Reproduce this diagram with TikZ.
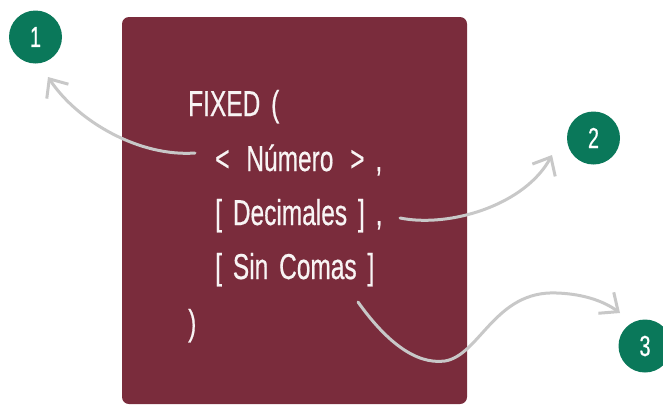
\documentclass[tikz,border=0pt]{standalone}
\usepackage{fontspec}
\setmainfont{Liberation Sans}[FakeStretch=0.68,WordSpace=1.6,FakeBold=0.5]
\usetikzlibrary{arrows.meta}
\definecolor{boxred}{RGB}{122,44,60}
\definecolor{numgreen}{RGB}{10,120,90}
\definecolor{arrowgray}{RGB}{200,200,200}
\definecolor{txtwhite}{RGB}{248,244,244}
\tikzset{
  codeline/.style={anchor=base west, inner sep=0pt, text=txtwhite, font=\fontsize{36}{36}\selectfont},
  numcircle/.style={circle, fill=numgreen, minimum size=53pt, inner sep=0pt, text=white, font=\fontsize{29}{29}\selectfont},
  pointer/.style={draw=arrowgray, line width=3pt, line cap=round, -{Straight Barb[length=15pt,width=26pt,line width=3pt]}}
}
\begin{document}
\begin{tikzpicture}[x=1pt,y=-1pt]
\useasboundingbox (0,0) rectangle (663,405);
\fill[boxred, rounded corners=7pt] (122,17) rectangle (467,404);
\node[numcircle] (n1) at (35.5,37) {1};
\node[numcircle] (n2) at (593.5,138) {2};
\node[numcircle] (n3) at (645,346) {3};
\node[codeline] (l1) at (188,116) {FIXED (};
\node[codeline] (l2) at (215,171) {<\, Número \,> ,};
\node[codeline] (l3) at (215,225) {[ Decimales ] ,};
\node[codeline] (l4) at (215,279) {[ Sin Comas ]};
\node[codeline] (l5) at (188,335) {)};
\coordinate (s1) at (195,153);
\coordinate (e1) at (48,77);
\coordinate (s2) at (400,218);
\coordinate (e2) at (552,155);
\coordinate (s3) at (358,302);
\coordinate (m3) at (445,361);
\coordinate (p3) at (557,293);
\coordinate (e3) at (620,313);
\draw[pointer] (s1) .. controls (140,157) and (78,122) .. (e1);
\draw[pointer] (s2) .. controls (450,228) and (525,205) .. (e2);
\draw[pointer] (s3) .. controls (385,340) and (415,365) .. (m3) .. controls (480,355) and (495,290) .. (p3) .. controls (585,294) and (605,302) .. (e3);
\end{tikzpicture}
\end{document}
